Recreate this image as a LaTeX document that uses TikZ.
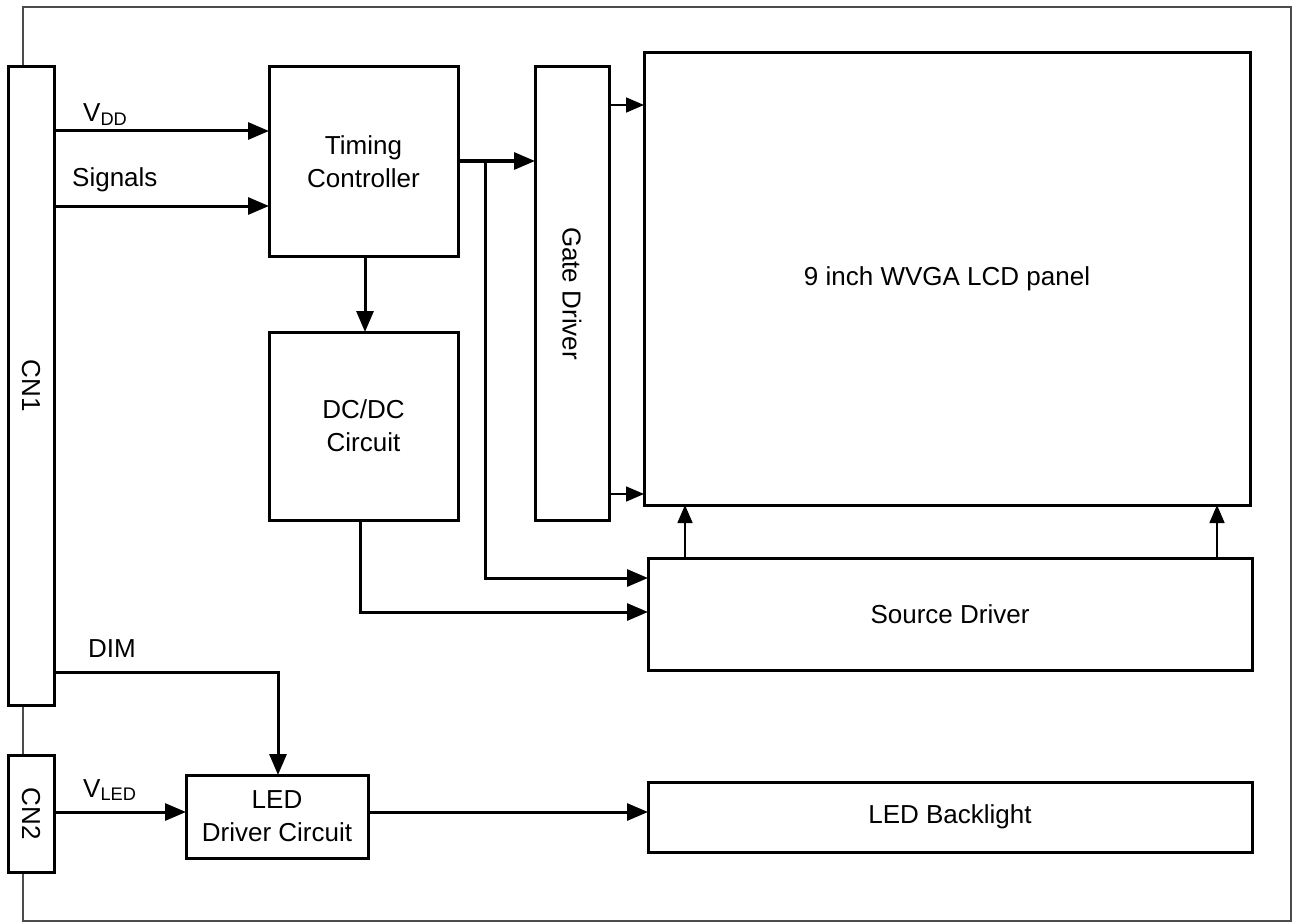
\documentclass[tikz,border=0pt]{standalone}
\usepackage{fontspec}
\setmainfont{Liberation Sans}
\usetikzlibrary{arrows.meta}
\tikzset{
  box/.style={draw=black, line width=3pt, fill=white, inner sep=0pt, outer sep=0pt, anchor=north west, align=center},
  thk/.style={line width=3pt},
  arr/.style={thk, -{Triangle[length=21pt,width=17pt]}},
  tarr/.style={line width=1.6pt, -{Triangle[length=18pt,width=15pt]}},
  lbl/.style={inner sep=0pt, anchor=base west},
}
\begin{document}
\begin{tikzpicture}[x=1pt,y=-1pt,font=\fontsize{26}{33}\selectfont]
\useasboundingbox (0,0) rectangle (1293,923);
\draw[line width=1.2pt, black!70] (23,7) rectangle (1291,921);
\node[box, minimum width=46pt, minimum height=638pt] (CN1) at (8,67) {};
\node[rotate=-90] at (CN1.center) {CN1};
\node[box, minimum width=46pt, minimum height=117pt] (CN2) at (8,755) {};
\node[rotate=-90] at (CN2.center) {CN2};
\node[box, minimum width=189pt, minimum height=189pt] (TC) at (269,67) {Timing\\Controller};
\node[box, minimum width=189pt, minimum height=188pt] (DC) at (269,332) {DC/DC\\Circuit};
\node[box, minimum width=74pt, minimum height=453pt] (GD) at (535,67) {};
\node[rotate=-90] at (GD.center) {Gate Driver};
\node[box, minimum width=606pt, minimum height=452pt] (LCD) at (644,53) {9 inch WVGA LCD panel};
\node[box, minimum width=604pt, minimum height=112pt] (SD) at (648,558) {Source Driver};
\node[box, minimum width=182pt, minimum height=83pt] (LEDD) at (186,775) {LED\\Driver Circuit};
\node[box, minimum width=604pt, minimum height=70pt] (LEDB) at (648,782) {LED Backlight};

\node[lbl] (vdd) at (83,122) {V\textsubscript{DD}};
\node[lbl] (sig) at (72,186) {Signals};
\node[lbl] (dim) at (88,657) {DIM};
\node[lbl] (vled) at (83,797) {V\textsubscript{LED}};

\draw[arr] (CN1.east|-0,131) -- (TC.west|-0,131);
\draw[arr] (CN1.east|-0,206) -- (TC.west|-0,206);
\draw[arr] (TC.east|-0,161) -- (GD.west|-0,161);
\coordinate (br) at (485,161);
\draw[arr] (br) -- (br|-0,578) -- (SD.west|-0,578);
\draw[arr] (TC.south-|365,0) -- (DC.north-|365,0);
\draw[arr] (DC.south-|360,0) -- (360,612) -- (SD.west|-0,612);
\draw[tarr] (GD.east|-0,105) -- (LCD.west|-0,105);
\draw[tarr] (GD.east|-0,494) -- (LCD.west|-0,494);
\draw[tarr] (SD.north-|685,0) -- (LCD.south-|685,0);
\draw[tarr] (SD.north-|1217,0) -- (LCD.south-|1217,0);
\draw[arr] (CN1.east|-0,672) -- (278,672) -- (LEDD.north-|278,0);
\draw[arr] (CN2.east|-0,812) -- (LEDD.west|-0,812);
\draw[arr] (LEDD.east|-0,812) -- (LEDB.west|-0,812);
\end{tikzpicture}
\end{document}
